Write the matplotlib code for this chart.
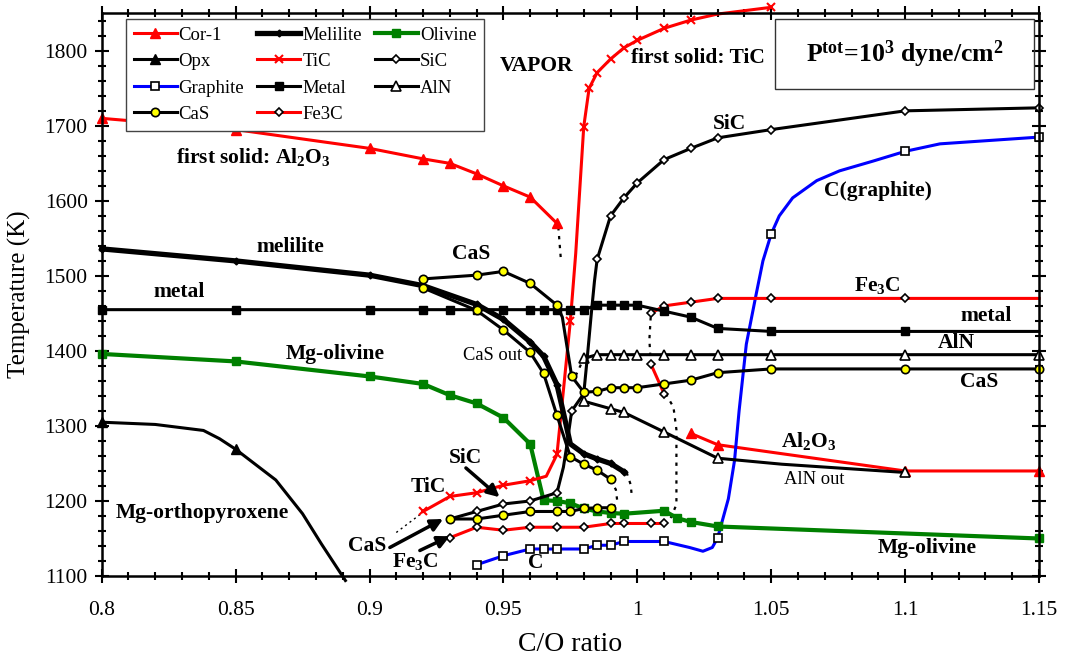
import matplotlib
matplotlib.use("Agg")
import matplotlib.pyplot as plt
from matplotlib.lines import Line2D
from matplotlib.patches import Rectangle
from matplotlib.ticker import MultipleLocator, FuncFormatter

plt.rcParams["font.family"] = ["Liberation Serif", "DejaVu Serif"]
plt.rcParams["mathtext.fontset"] = "custom"
plt.rcParams["mathtext.rm"] = "Liberation Serif"
plt.rcParams["mathtext.bf"] = "Liberation Serif:bold"
plt.rcParams["mathtext.it"] = "Liberation Serif:italic"

RED = "#ff0000"
GREEN = "#008000"
BLUE = "#0000ff"
YELLOW = "#ffff00"

# ---------------------------------------------------------------------------
# Condensation curves (C/O ratio, temperature in K)
# ---------------------------------------------------------------------------
cor1_x = [0.80, 0.85, 0.90, 0.92, 0.93, 0.94, 0.95, 0.96, 0.97]
cor1_t = [1710, 1695, 1670, 1656, 1650, 1636, 1620, 1605, 1570]
cor2_x = [1.02, 1.03, 1.10, 1.15]
cor2_t = [1290, 1275, 1240, 1240]

opx_x = [0.80, 0.82, 0.838, 0.844, 0.85, 0.865, 0.875, 0.882, 0.891]
opx_t = [1305, 1302, 1294, 1283, 1269, 1228, 1183, 1143, 1094]
opx_mk = [0, 4]

mel_x = [0.80, 0.85, 0.90, 0.92, 0.94, 0.95, 0.96, 0.965, 0.97, 0.9725,
         0.975, 0.98, 0.985, 0.99, 0.995]
mel_t = [1536, 1520, 1501, 1487, 1462, 1442, 1412, 1393, 1355, 1316,
         1276, 1263, 1256, 1250, 1239]
mel_mk = [0, 1, 2, 4, 5, 6, 7, 8, 11, 12, 13, 14]

oli_x = [0.80, 0.85, 0.90, 0.92, 0.93, 0.94, 0.95, 0.96, 0.965, 0.97,
         0.975, 0.98, 0.985, 0.99, 0.995, 1.01, 1.015, 1.02, 1.03, 1.15]
oli_t = [1396, 1386, 1366, 1356, 1341, 1330, 1311, 1276, 1201, 1200,
         1197, 1190, 1186, 1184, 1183, 1187, 1177, 1172, 1166, 1150]

tic_x = [0.92, 0.93, 0.94, 0.95, 0.96, 0.966, 0.97, 0.975, 0.977, 0.98,
         0.982, 0.985, 0.99, 0.995, 1.00, 1.01, 1.02, 1.03, 1.05]
tic_t = [1186, 1206, 1211, 1221, 1227, 1233, 1262, 1440, 1530, 1699,
         1750, 1771, 1789, 1804, 1814, 1830, 1841, 1849, 1858]
tic_mk = [0, 1, 2, 3, 4, 6, 7, 9, 10, 11, 12, 13, 14, 15, 16, 18]

sic_x = [0.93, 0.94, 0.95, 0.96, 0.97, 0.9724, 0.9736, 0.9755, 0.98,
         0.9812, 0.9819, 0.9828, 0.984, 0.985, 0.99, 0.995, 1.00, 1.01,
         1.02, 1.03, 1.05, 1.10, 1.15]
sic_t = [1176, 1186, 1196, 1200, 1211, 1245, 1272, 1320, 1343,
         1387, 1414, 1449, 1493, 1522, 1580, 1604, 1624, 1655,
         1670, 1684, 1695, 1720, 1724]
sic_mk = [1, 2, 3, 4, 7, 13, 14, 15, 16, 17, 18, 19, 20, 21, 22]

gra_x = [0.94, 0.95, 0.96, 0.965, 0.97, 0.98, 0.985, 0.99, 0.995, 1.01,
         1.0195, 1.0245, 1.028, 1.03, 1.034, 1.0363, 1.038, 1.0407,
         1.0444, 1.0469, 1.05, 1.053, 1.058, 1.067, 1.0755, 1.088, 1.10,
         1.113, 1.15]
gra_t = [1115, 1127, 1136, 1136, 1136, 1136, 1141, 1141, 1146, 1146,
         1138, 1133, 1138, 1151, 1203, 1254, 1320, 1409,
         1476, 1520, 1556, 1580, 1604, 1627, 1640, 1653, 1666,
         1676, 1685]
gra_mk = [0, 1, 2, 3, 4, 5, 6, 7, 8, 9, 13, 20, 26, 28]

met_x = [0.80, 0.85, 0.90, 0.92, 0.93, 0.94, 0.95, 0.96, 0.965, 0.97,
         0.975, 0.98, 0.985, 0.99, 0.995, 1.00, 1.01, 1.02, 1.03, 1.05,
         1.10, 1.15]
met_t = [1455, 1455, 1455, 1455, 1455, 1455, 1455, 1455, 1455, 1455,
         1455, 1455, 1461, 1461, 1461, 1461, 1453, 1445, 1430, 1426,
         1426, 1426]
met_mk = list(range(21))

aln1_x = [0.98, 0.985, 0.99, 0.995, 1.00, 1.01, 1.02, 1.03, 1.05, 1.10, 1.15]
aln1_t = [1390, 1395, 1395, 1395, 1395, 1395, 1395, 1395, 1395, 1395, 1395]
aln2_x = [0.98, 0.99, 0.995, 1.01, 1.03, 1.054, 1.10]
aln2_t = [1333, 1323, 1318, 1292, 1257, 1249, 1238]
aln2_mk = [0, 1, 2, 3, 4, 6]

casa_x = [0.92, 0.94, 0.95, 0.96, 0.97, 0.972, 0.9755, 0.98, 0.985, 0.99,
          0.995, 1.00, 1.01, 1.02, 1.03, 1.05, 1.10, 1.15]
casa_t = [1496, 1501, 1506, 1490, 1461, 1445, 1366, 1345, 1346, 1351,
          1351, 1351, 1356, 1361, 1371, 1376, 1376, 1376]
casa_mk = [0, 1, 2, 3, 4, 6, 7, 8, 9, 10, 11, 12, 13, 14, 15, 16, 17]
casb_x = [0.92, 0.94, 0.95, 0.96, 0.965, 0.97, 0.975, 0.98, 0.985, 0.99]
casb_t = [1484, 1454, 1428, 1398, 1370, 1314, 1259, 1249, 1241, 1229]
casc_x = [0.93, 0.94, 0.95, 0.96, 0.97, 0.975, 0.98, 0.985, 0.99]
casc_t = [1176, 1176, 1181, 1186, 1186, 1186, 1190, 1191, 1191]

fe1_x = [0.93, 0.94, 0.95, 0.96, 0.97, 0.98, 0.99, 0.995, 1.005, 1.01]
fe1_t = [1151, 1165, 1161, 1165, 1165, 1165, 1170, 1170, 1170, 1170]
fe2_x = [1.005, 1.01]
fe2_t = [1383, 1343]
fe3_x = [1.005, 1.01, 1.02, 1.03, 1.05, 1.10, 1.15]
fe3_t = [1450, 1460, 1465, 1470, 1470, 1470, 1470]
fe3_mk = [0, 1, 2, 3, 4, 5]

# dotted connectors between phase boundaries
dots = [
    ([0.9705, 0.9715], [1565, 1520]),
    ([0.996, 0.9975, 0.998], [1238, 1222, 1205]),
    ([0.99, 0.992, 0.9925, 0.991], [1228, 1215, 1200, 1192]),
    ([0.977, 0.98], [1367, 1390]),
    ([1.0106, 1.0135, 1.0146, 1.0146, 1.0125, 1.0106],
     [1343, 1325, 1295, 1195, 1178, 1170]),
    ([1.005, 1.0045, 1.005], [1445, 1415, 1385]),
]
tic_dot_x = [0.910, 0.92]
tic_dot_t = [1158, 1185]

# ---------------------------------------------------------------------------
fig = plt.figure(figsize=(10.67, 6.62), dpi=100)
ax = fig.add_axes([0.0953, 0.1299, 0.8785, 0.85])

st_cor = dict(color=RED, lw=2.2, marker="^", ms=7, mfc=RED, mec=RED)
st_opx = dict(color="k", lw=2.2, marker="^", ms=7, mfc="k", mec="k")
st_mel = dict(color="k", lw=3.8, marker="D", ms=3.5, mfc="k", mec="k")
st_oli = dict(color=GREEN, lw=3.0, marker="s", ms=6, mfc=GREEN, mec=GREEN)
st_tic = dict(color=RED, lw=2.2, marker="x", ms=6, mew=1.5, mec=RED)
st_sic = dict(color="k", lw=2.2, marker="D", ms=4.3, mfc="w", mec="k", mew=1.2)
st_gra = dict(color=BLUE, lw=2.2, marker="s", ms=6, mfc="w", mec="k", mew=1.2)
st_met = dict(color="k", lw=2.2, marker="s", ms=6, mfc="k", mec="k")
st_aln = dict(color="k", lw=2.2, marker="^", ms=7, mfc="w", mec="k", mew=1.2)
st_cas = dict(color="k", lw=2.2, marker="o", ms=6, mfc=YELLOW, mec="k", mew=1.2)
st_fe = dict(color=RED, lw=2.2, marker="D", ms=4.3, mfc="w", mec="k", mew=1.2)


def trace(xs, ts, style, mk=None):
    ax.plot(xs, ts, markevery=mk, clip_on=False, **style)


for xs, ts in dots:
    ax.plot(xs, ts, color="k", lw=1.6, ls=(0, (1.5, 2.5)), clip_on=False)
ax.plot(tic_dot_x, tic_dot_t, color="k", lw=1.0, ls=(0, (1.5, 2.5)))

trace(opx_x, opx_t, st_opx, opx_mk)
trace(cor1_x, cor1_t, st_cor)
trace(cor2_x, cor2_t, st_cor)
trace(gra_x, gra_t, st_gra, gra_mk)
trace(fe1_x, fe1_t, st_fe)
trace(fe2_x, fe2_t, st_fe)
trace(fe3_x, fe3_t, st_fe, fe3_mk)
trace(oli_x, oli_t, st_oli)
trace(tic_x, tic_t, st_tic, tic_mk)
trace(met_x, met_t, st_met, met_mk)
trace(aln1_x, aln1_t, st_aln)
trace(aln2_x, aln2_t, st_aln, aln2_mk)
trace(mel_x, mel_t, st_mel, mel_mk)
trace(sic_x, sic_t, st_sic, sic_mk)
trace(casa_x, casa_t, st_cas, casa_mk)
trace(casb_x, casb_t, st_cas)
trace(casc_x, casc_t, st_cas)

# axes
ax.set_xlim(0.8, 1.15)
ax.set_ylim(1100, 1850)
ax.xaxis.set_major_locator(MultipleLocator(0.05))
ax.xaxis.set_minor_locator(MultipleLocator(0.01))
ax.yaxis.set_major_locator(MultipleLocator(100))
ax.yaxis.set_minor_locator(MultipleLocator(20))
ax.xaxis.set_major_formatter(FuncFormatter(lambda v, p: "%g" % round(v, 3)))
ax.tick_params(which="both", direction="inout", top=True, right=True,
               width=1.5, labelsize=15.5)
ax.tick_params(which="major", length=10)
ax.tick_params(which="minor", length=6)
ax.tick_params(axis="x", which="major", pad=13)
ax.tick_params(axis="y", which="major", pad=5)
for sp in ax.spines.values():
    sp.set_linewidth(1.8)

ax.set_xlabel("C/O ratio", fontsize=20)
ax.set_ylabel("Temperature (K)", fontsize=18)
ax.xaxis.set_label_coords(0.5, -0.1)
ax.yaxis.set_label_coords(-0.075, 0.5)

# legend (proxies so every handle carries one marker)
entries = [
    ("Cor-1", st_cor), ("Opx", st_opx), ("Graphite", st_gra), ("CaS", st_cas),
    ("Melilite", st_mel), ("TiC", st_tic), ("Metal", st_met), ("Fe3C", st_fe),
    ("Olivine", st_oli), ("SiC", st_sic), ("AlN", st_aln),
]
handles = [Line2D([], [], **s) for _, s in entries]
leg = ax.legend(handles, [n for n, _ in entries], ncol=3, loc="upper left",
                bbox_to_anchor=(0.026, 0.99), borderaxespad=0, fontsize=13.5,
                numpoints=1, handlelength=2.3, handletextpad=0.1,
                columnspacing=0.7, labelspacing=0.5, borderpad=0.4,
                fancybox=False, framealpha=1, edgecolor="#444444")
leg.get_frame().set_linewidth(1.0)

# pressure box
ax.add_patch(Rectangle((0.7183, 0.865), 0.2767, 0.1244, transform=ax.transAxes,
                       fill=False, ec="#333333", lw=1.0, zorder=5))
ax.text(0.857, 0.927, r"P$^\mathbf{tot}$=10$^\mathbf{3}$ dyne/cm$^\mathbf{2}$",
        transform=ax.transAxes, ha="center", va="center", fontsize=18.5,
        fontweight="bold", zorder=6)

# phase labels
bold_labels = [
    ("VAPOR", 0.9624, 1780),
    ("first solid: TiC", 1.0225, 1791),
    (r"first solid: Al$_\mathbf{2}$O$_\mathbf{3}$", 0.8565, 1659),
    ("melilite", 0.8706, 1538),
    ("metal", 0.829, 1479),
    ("Mg-olivine", 0.8872, 1396),
    ("CaS", 0.938, 1529),
    ("SiC", 1.0344, 1702),
    ("C(graphite)", 1.09, 1613),
    (r"Fe$_\mathbf{3}$C", 1.0895, 1487),
    ("metal", 1.1303, 1447),
    ("AlN", 1.119, 1411),
    ("CaS", 1.1277, 1359),
    (r"Al$_\mathbf{2}$O$_\mathbf{3}$", 1.064, 1280),
    ("Mg-olivine", 1.1083, 1137),
    ("Mg-orthopyroxene", 0.8376, 1184),
    ("TiC", 0.9221, 1218),
    ("SiC", 0.936, 1257),
    ("CaS", 0.8992, 1140),
    (r"Fe$_\mathbf{3}$C", 0.917, 1119),
    ("C", 0.962, 1118),
]
for txt, x, t in bold_labels:
    ax.text(x, t, txt, ha="center", va="center", fontsize=15.5,
            fontweight="bold", zorder=7)

ax.text(0.9458, 1394, "CaS out", ha="center", va="center", fontsize=13.3,
        zorder=7)
ax.text(1.066, 1229, "AlN out", ha="center", va="center", fontsize=13.3,
        zorder=7)

# arrows toward the low-temperature phases
arrows = [
    ((0.936, 1244), (0.9486, 1205)),
    ((0.9076, 1138), (0.9275, 1176)),
    ((0.9188, 1134), (0.930, 1153)),
]
for start, tip in arrows:
    ax.annotate("", xy=tip, xytext=start,
                arrowprops=dict(arrowstyle="-|>", lw=2.5, color="k",
                                mutation_scale=18, shrinkA=0, shrinkB=0))

fig.savefig("out.png", dpi=100)
